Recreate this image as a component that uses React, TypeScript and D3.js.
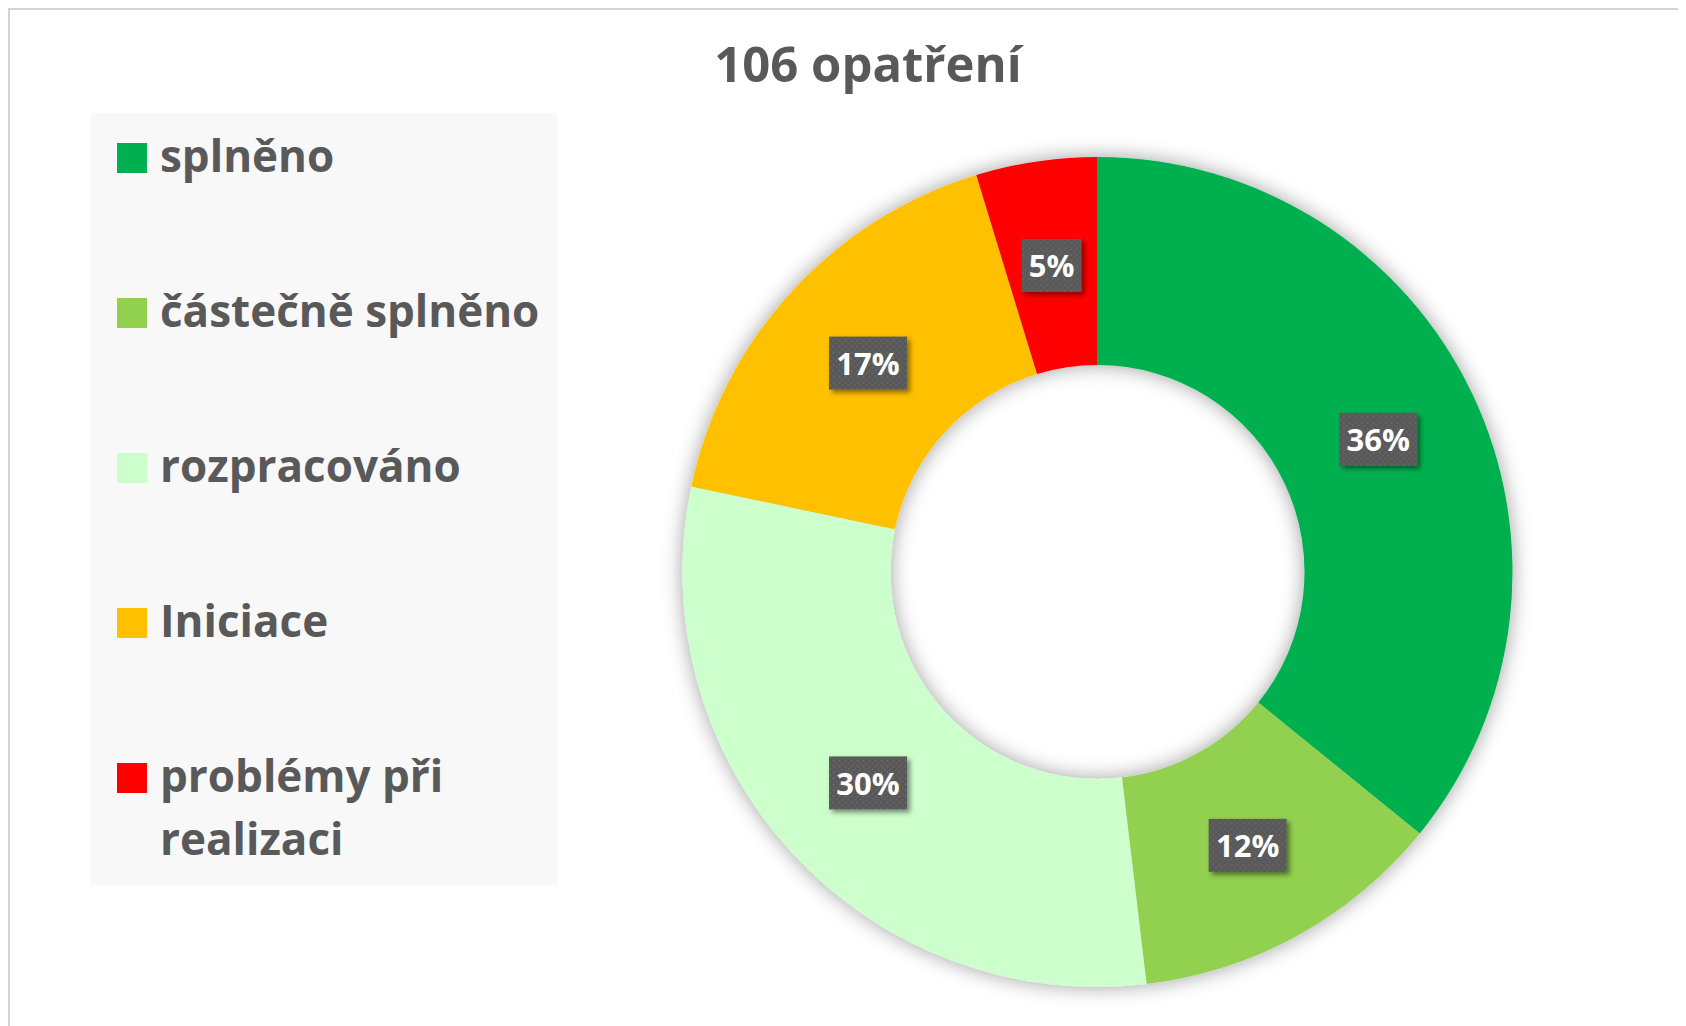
import React from "react";
import * as d3 from "d3";

const categories = ["splněno", "částečně splněno", "rozpracováno", "Iniciace", "problémy při realizaci"];
const legendLines = [["splněno"], ["částečně splněno"], ["rozpracováno"], ["Iniciace"], ["problémy při", "realizaci"]];
const counts = [38, 13, 32, 18, 5];
const colors = ["#00B050", "#92D050", "#CCFFCC", "#FFC000", "#FF0000"];
const title = "106 opatření";

const W = 1678;
const H = 1018;
const FONT = "'Open Sans', 'Noto Sans', sans-serif";
const TEXT = "#595959";

export default function App() {
  const total = d3.sum(counts);
  const pie = d3.pie<number>().sort(null).value((d) => d)(counts);
  const cx = 1097.5, cy = 572, R = 415, r = 207;
  const arc = d3.arc<d3.PieArcDatum<number>>().innerRadius(r).outerRadius(R);
  const fmt = d3.format(".0%");

  return (
    <svg width={W} height={H} style={{ display: "block" }} fontFamily={FONT}>
      <defs>
        <filter id="donutShadow" x="-20%" y="-20%" width="140%" height="140%">
          <feDropShadow dx="0" dy="0" stdDeviation="10" floodColor="#000" floodOpacity="0.38" />
        </filter>
        <filter id="boxShadow" x="-30%" y="-30%" width="160%" height="160%">
          <feDropShadow dx="3" dy="3" stdDeviation="2.5" floodColor="#000" floodOpacity="0.45" />
        </filter>
        <pattern id="dots" width="6" height="6" patternUnits="userSpaceOnUse">
          <rect width="6" height="6" fill="#595959" />
          <circle cx="1.5" cy="1.5" r="0.9" fill="#6c6c6c" />
          <circle cx="4.5" cy="4.5" r="0.9" fill="#666666" />
        </pattern>
      </defs>
      <rect x={0} y={0} width={W} height={H} fill="#fff" />
      <rect x={1} y={1} width={W + 50} height={H + 50} fill="none" stroke="#d4d4d4" strokeWidth={2} />
      <g transform="translate(-8,-8)">
        <text x={868} y={82} textAnchor="middle" fontSize={49} fontWeight={700} fill={TEXT}>{title}</text>

        {/* legend */}
        <rect x={91} y={113} width={466} height={772} fill="#f8f8f8" />
        {categories.map((c, i) => {
          const baseY = 172 + i * 155;
          return (
            <g key={c}>
              <rect x={117} y={143 + i * 155} width={30} height={30} fill={colors[i]} />
              {legendLines[i].map((line, j) => (
                <text key={j} x={160} y={baseY + j * 63} fontSize={44} fontWeight={700} fill={TEXT}>{line}</text>
              ))}
            </g>
          );
        })}

        {/* donut */}
        <g transform={`translate(${cx},${cy})`}>
          <g filter="url(#donutShadow)">
            {pie.map((d, i) => (
              <path key={i} d={arc(d) || ""} fill={colors[i]} />
            ))}
          </g>
          {pie.map((d, i) => {
            const [x, y] = arc.centroid(d);
            const label = fmt(d.value / total);
            const w = label.length > 2 ? 78 : 60;
            const h = 53;
            return (
              <g key={"l" + i} transform={`translate(${x},${y + 1})`}>
                <rect x={-w / 2} y={-h / 2} width={w} height={h} fill="url(#dots)" filter="url(#boxShadow)" />
                <text x={0} y={12} textAnchor="middle" fontSize={31} fontWeight={700} fill="#fff">{label}</text>
              </g>
            );
          })}
        </g>
      </g>
    </svg>
  );
}
